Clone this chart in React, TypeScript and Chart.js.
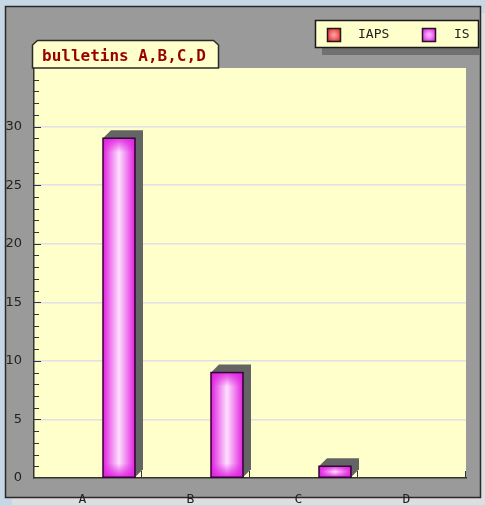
import React, { useEffect, useRef } from 'react';
import { Chart, registerables } from 'chart.js';

Chart.register(...registerables);

const categories = ['A', 'B', 'C', 'D'];
const seriesNames = ['IAPS', 'IS'];
const iapsValues = [0, 0, 0, 0];
const isValues = [29, 9, 1, 0];
const seriesColors = ['#e02a2a', '#e020e0'];
const seriesHighlights = ['#ff9a9a', '#ffb0ff'];
const titleText = 'bulletins A,B,C,D';
const yMin = 0;
const yMax = 35;
const yMajorStep = 5;

const W = 485;
const H = 506;

export default function App() {
  const ref = useRef<HTMLCanvasElement>(null);

  useEffect(() => {
    document.body.style.margin = '0';
    const canvas = ref.current!;

    const framePlugin = {
      id: 'frame',
      beforeDraw(chart: any) {
        const { ctx, chartArea: ca } = chart;
        ctx.save();
        ctx.fillStyle = '#c8d7e6';
        ctx.fillRect(0, 0, W, H);
        // panel shadow
        ctx.fillStyle = '#dedede';
        ctx.fillRect(12, 13, 476, 492);
        // panel
        ctx.fillStyle = '#9a9a9a';
        ctx.fillRect(5, 6, 476, 492);
        ctx.strokeStyle = '#2a2a2a';
        ctx.lineWidth = 1.5;
        ctx.strokeRect(5.5, 6.5, 475, 491);
        // plot area
        ctx.fillStyle = '#ffffcc';
        ctx.fillRect(ca.left, ca.top, ca.right - ca.left, ca.bottom - ca.top);
        ctx.restore();
      },
      afterDraw(chart: any) {
        const { ctx, chartArea: ca } = chart;
        const ys = chart.scales.y;
        const xs = chart.scales.x;
        ctx.save();
        // y tick marks (inside)
        ctx.strokeStyle = '#333';
        ctx.lineWidth = 1;
        for (let v = yMin + 1; v < yMax; v++) {
          const py = Math.round(ys.getPixelForValue(v)) + 0.5;
          const len = v % yMajorStep === 0 ? 7 : 5;
          ctx.beginPath();
          ctx.moveTo(ca.left, py);
          ctx.lineTo(ca.left + len, py);
          ctx.stroke();
        }
        // x tick marks at category boundaries
        const catW = (ca.right - ca.left) / categories.length;
        categories.forEach((_, i) => {
          const px = Math.round(xs.getPixelForValue(i) + catW / 2) - 0.5;
          ctx.beginPath();
          ctx.moveTo(px, ca.bottom);
          ctx.lineTo(px, ca.bottom - 7);
          ctx.stroke();
        });

        // title tab
        ctx.beginPath();
        ctx.moveTo(32.5, 68);
        ctx.lineTo(32.5, 45);
        ctx.lineTo(37.5, 40.5);
        ctx.lineTo(213.5, 40.5);
        ctx.lineTo(218.5, 45);
        ctx.lineTo(218.5, 68);
        ctx.closePath();
        ctx.fillStyle = '#ffffcc';
        ctx.fill();
        ctx.strokeStyle = '#2a2a2a';
        ctx.lineWidth = 1.5;
        ctx.stroke();
        ctx.fillStyle = '#990000';
        ctx.font = 'bold 16px "DejaVu Sans Mono"';
        ctx.textBaseline = 'alphabetic';
        ctx.textAlign = 'left';
        ctx.fillText(titleText, 42, 61);

        // legend (shadow clipped to the panel)
        ctx.save();
        ctx.beginPath();
        ctx.rect(6, 7, 474, 490);
        ctx.clip();
        ctx.fillStyle = '#707070';
        ctx.fillRect(322, 27, 166, 28);
        ctx.restore();
        ctx.fillStyle = '#ffffcc';
        ctx.fillRect(315, 20, 164, 28);
        ctx.strokeStyle = '#1a1a1a';
        ctx.lineWidth = 1.5;
        ctx.strokeRect(315.5, 20.5, 163, 27);
        const sqX = [327, 422];
        const txX = [358, 454];
        chart.data.datasets.forEach((ds: any, i: number) => {
          const sx = sqX[i];
          const sy = 28;
          const g = ctx.createRadialGradient(sx + 7, sy + 7, 1, sx + 7, sy + 7, 8);
          g.addColorStop(0, seriesHighlights[i]);
          g.addColorStop(1, seriesColors[i]);
          ctx.fillStyle = g;
          ctx.fillRect(sx, sy, 14, 14);
          ctx.strokeStyle = '#1a1a1a';
          ctx.lineWidth = 1.5;
          ctx.strokeRect(sx + 0.5, sy + 0.5, 13, 13);
          ctx.fillStyle = '#222';
          ctx.font = '13px "DejaVu Sans Mono"';
          ctx.textBaseline = 'middle';
          ctx.fillText(ds.label, txX[i], 35);
        });
        ctx.restore();
      },
    };

    const barPlugin = {
      id: 'bar3d',
      beforeDatasetDraw(chart: any, args: any) {
        const meta = chart.getDatasetMeta(args.index);
        const ctx = chart.ctx;
        meta.data.forEach((el: any) => {
          const { x, y, base, width } = el.getProps(['x', 'y', 'base', 'width'], true);
          if (Math.abs(base - y) < 0.5) return;
          const l = x - width / 2;
          const r = x + width / 2;
          const d = 8;
          ctx.save();
          ctx.fillStyle = '#646464';
          ctx.beginPath();
          ctx.moveTo(l, y);
          ctx.lineTo(l + d, y - d);
          ctx.lineTo(r + d, y - d);
          ctx.lineTo(r + d, base - d);
          ctx.lineTo(r, base);
          ctx.closePath();
          ctx.fill();
          ctx.restore();
        });
      },
      afterDatasetDraw(chart: any, args: any) {
        const meta = chart.getDatasetMeta(args.index);
        const ctx = chart.ctx;
        const i = args.index;
        meta.data.forEach((el: any) => {
          const { x, y, base, width } = el.getProps(['x', 'y', 'base', 'width'], true);
          if (Math.abs(base - y) < 0.5) return;
          const l = x - width / 2;
          const r = x + width / 2;
          const h = base - y;
          ctx.save();
          const g = ctx.createLinearGradient(l, 0, r, 0);
          g.addColorStop(0, seriesColors[i]);
          g.addColorStop(0.5, '#ffe0ff');
          g.addColorStop(1, seriesColors[i]);
          ctx.fillStyle = g;
          ctx.fillRect(l + 1, y + 1, width - 2, h - 2);
          const bev = Math.min(14, h / 2);
          const gt = ctx.createLinearGradient(0, y, 0, y + bev);
          gt.addColorStop(0, 'rgba(224,32,224,0.9)');
          gt.addColorStop(1, 'rgba(224,32,224,0)');
          ctx.fillStyle = gt;
          ctx.fillRect(l + 1, y + 1, width - 2, bev);
          const gb = ctx.createLinearGradient(0, base, 0, base - bev);
          gb.addColorStop(0, 'rgba(224,32,224,0.9)');
          gb.addColorStop(1, 'rgba(224,32,224,0)');
          ctx.fillStyle = gb;
          ctx.fillRect(l + 1, base - bev - 1, width - 2, bev);
          ctx.strokeStyle = '#330033';
          ctx.lineWidth = 1.5;
          ctx.strokeRect(l, y, width, h);
          ctx.restore();
        });
      },
    };

    const chart = new Chart(canvas, {
      type: 'bar',
      data: {
        labels: categories,
        datasets: [
          {
            label: seriesNames[0],
            data: iapsValues,
            backgroundColor: seriesColors[0],
            borderWidth: 0,
          },
          {
            label: seriesNames[1],
            data: isValues,
            backgroundColor: seriesColors[1],
            borderWidth: 0,
          },
        ],
      },
      options: {
        responsive: false,
        animation: false,
        devicePixelRatio: 1,
        categoryPercentage: 1.148,
        barPercentage: 0.516,
        layout: { padding: { top: 68, right: 19, left: 0, bottom: 0 } },
        plugins: {
          legend: { display: false },
          title: { display: false },
          tooltip: { enabled: false },
        },
        scales: {
          x: {
            offset: true,
            grid: { display: false },
            border: { display: true, color: '#333', width: 1.5 },
            ticks: {
              color: '#222',
              font: { family: 'DejaVu Sans Mono', size: 13 },
              labelOffset: -5.5,
              padding: 6,
            },
            afterFit: (s: any) => {
              s.height = 28;
            },
          },
          y: {
            min: yMin,
            max: yMax,
            grid: {
              drawTicks: false,
              color: (c: any) =>
                c.tick && c.tick.value % yMajorStep === 0 && c.tick.value > yMin && c.tick.value < yMax
                  ? '#e0e0e6'
                  : 'rgba(0,0,0,0)',
              lineWidth: 1.5,
            },
            border: { display: true, color: '#333', width: 1.5 },
            ticks: {
              stepSize: 1,
              autoSkip: false,
              padding: 12,
              color: '#222',
              font: { family: 'DejaVu Sans', size: 13 },
              callback: (v: any) => (Number(v) % yMajorStep === 0 && Number(v) < yMax ? String(v) : ''),
            },
            afterFit: (s: any) => {
              s.width = 34;
            },
          },
        },
      },
      plugins: [framePlugin, barPlugin],
    });

    return () => chart.destroy();
  }, []);

  return (
    <div style={{ position: 'absolute', left: 0, top: 0, width: W, height: H }}>
      <canvas ref={ref} width={W} height={H} style={{ display: 'block' }} />
    </div>
  );
}
